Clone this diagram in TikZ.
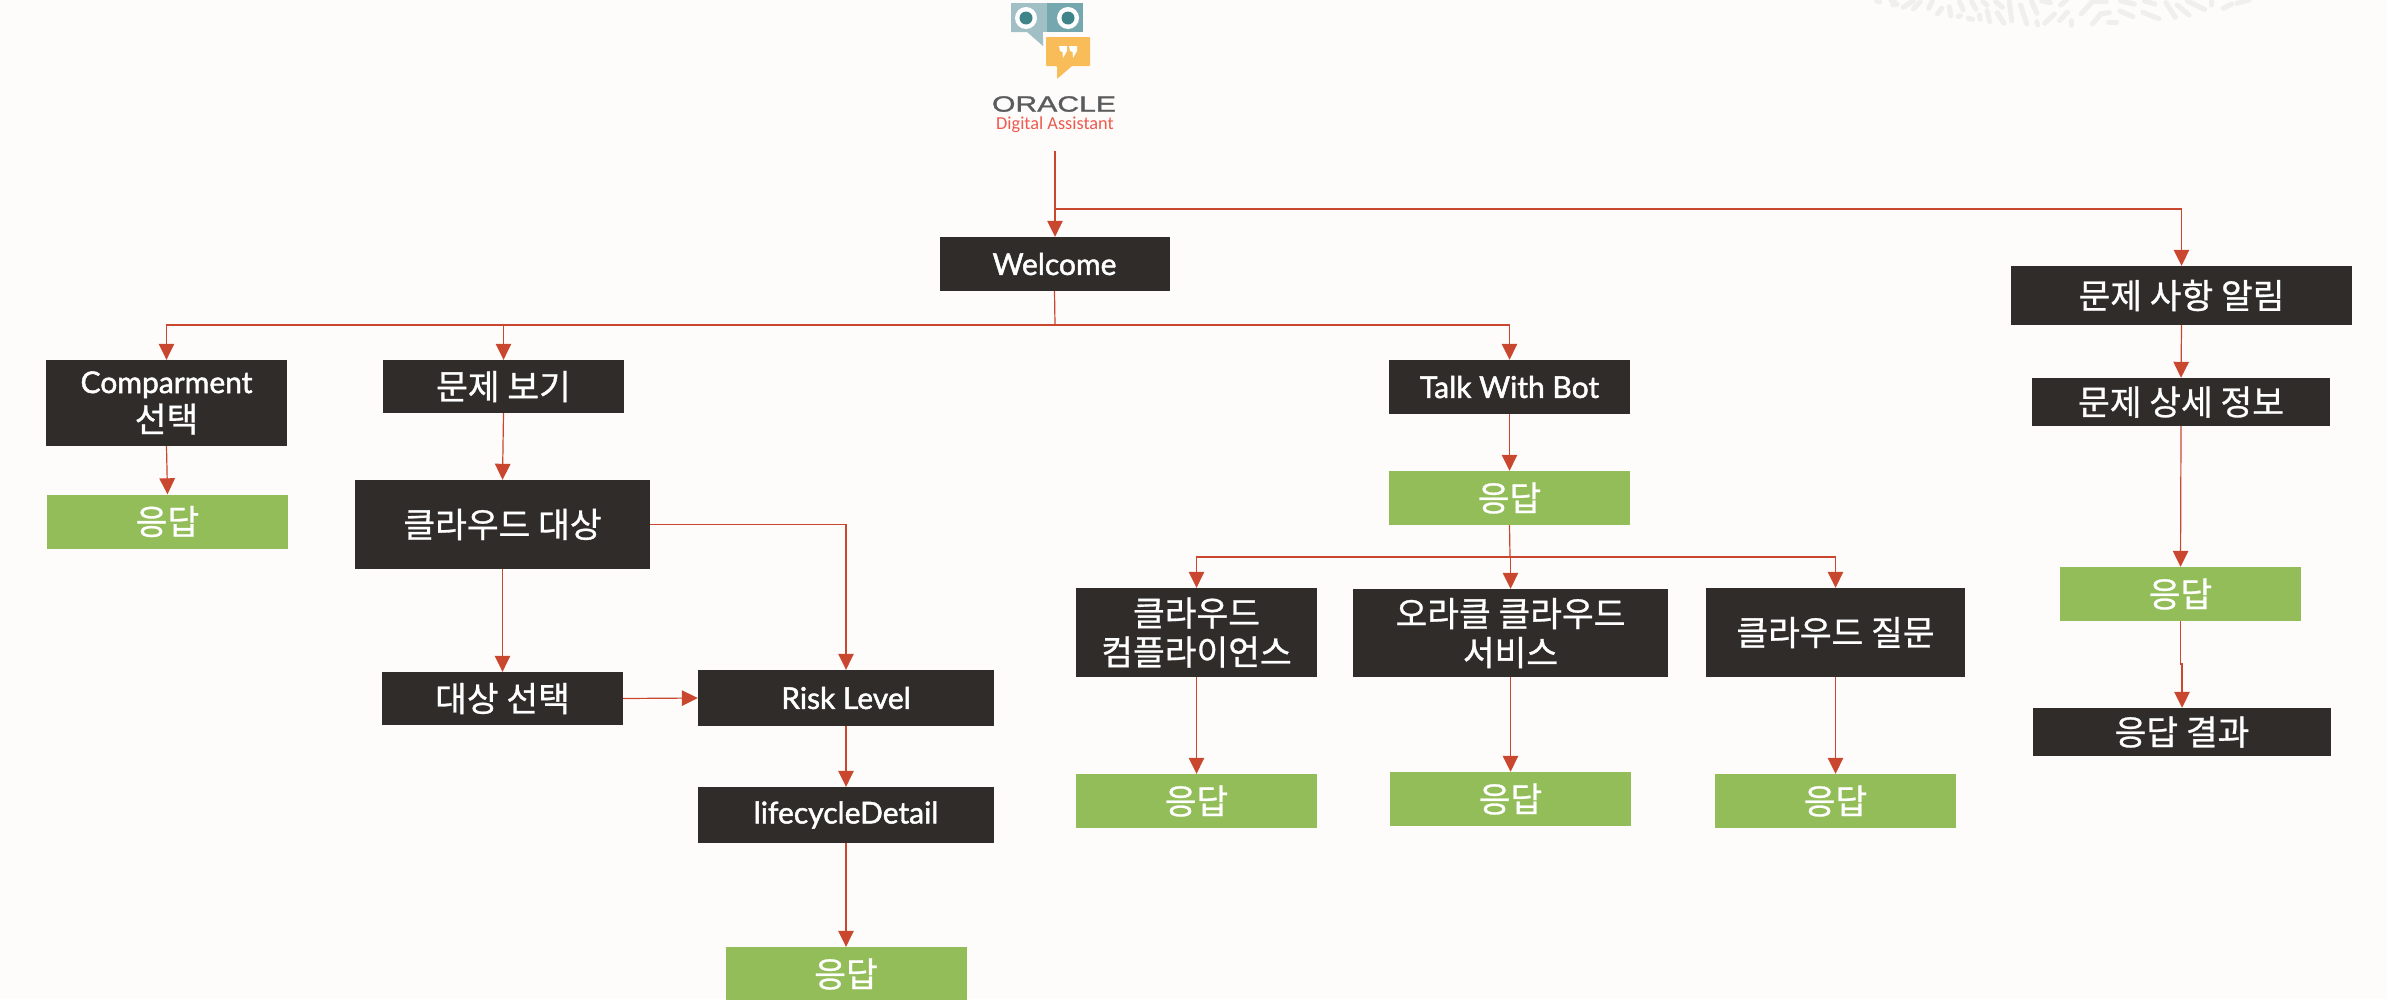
\documentclass[tikz,border=0pt]{standalone}
\usepackage{fontspec}
\usepackage{graphicx}
\usetikzlibrary{arrows.meta}
\setmainfont{Lato}[FakeBold=1.6]
\newfontfamily\kr{Noto Sans CJK KR}[FakeBold=0.8]
\newfontfamily\oralogo{Liberation Sans}[FakeBold=1.2]
\newfontfamily\odalabel{Carlito}
\definecolor{bgc}{HTML}{FDFCFA}
\definecolor{darkbox}{HTML}{2F2C2A}
\definecolor{greenbox}{HTML}{92BD58}
\definecolor{redline}{HTML}{C9462F}
\definecolor{blobc}{HTML}{F0EFED}
\tikzset{
  x=1pt,y=-1pt,
  box/.style={inner sep=0pt,text=white,align=center,font=\fontsize{30}{39}\selectfont,anchor=center},
  darkb/.style={box,fill=darkbox},
  krtext/.style={font=\kr\fontsize{34.5}{39}\selectfont},
  greenb/.style={box,fill=greenbox,minimum width=241pt,minimum height=54pt,krtext},
  arr/.style={draw=redline,line width=1.2pt,-{Triangle[width=15.5pt,length=16pt,fill=redline]}},
  plainline/.style={draw=redline,line width=1.2pt},
  blob/.style={draw=blobc,line width=5pt,line cap=round},
}
\begin{document}
\begin{tikzpicture}
\useasboundingbox (0,0) rectangle (2387,999);
\fill[bgc] (0,0) rectangle (2387,999);
% faint background texture
\foreach \a/\b/\c/\d in {78/3/86/6,120/2/130/0,125/15/137/13,155/22/185/3,185/27/205/5,230/25/240/3,255/42/268/25,290/20/294/48,315/50/322/47,320/5/330/30,355/5/368/28,345/55/358/58,378/45/380/58,388/5/400/15,400/32/408/65,425/5/445/22,430/38/450/70,465/5/472/62,498/15/516/72,530/5/546/40,560/3/585/8,545/65/548/75,568/70/597/42,615/15/632/0,612/62/635/36,648/62/648/76,675/42/705/8,710/5/748/5,708/72/730/45,730/42/757/38,755/68/778/68,788/33/826/50,790/3/830/12,855/37/902/56,860/3/890/12,922/8/950/52,955/15/990/45,985/3/1035/28,1055/3/1055/15,1090/25/1115/12,1130/10/1165/0} {
  \draw[blob] ({1850+\a/2.92},{\b/3}) -- ({1850+\c/2.92},{\d/3});
}
% logo
\fill[fill={rgb,255:red,160;green,192;blue,198}] (1011,3) -- (1047,3) -- (1047,32) -- (1043,32) -- (1043,46) -- (1027,32) -- (1011,32) -- cycle;
\fill[fill={rgb,255:red,117;green,168;blue,174}] (1047,3) -- (1083,3) -- (1083,32) -- (1047,32) -- cycle;
\foreach \cx in {1026,1068} {
  \fill[white] (\cx,18) circle[radius=11];
  \fill[fill={rgb,255:red,63;green,132;blue,137}] (\cx,18) circle[radius=6.5];
}
\fill[bgc] (1043,32) rectangle (1092,37);
\fill[fill={rgb,255:red,248;green,188;blue,88},rounded corners=0.8pt] (1046,37) -- (1090,37) -- (1090,66) -- (1072,66) -- (1057,79) -- (1057,66) -- (1046,66) -- cycle;
\foreach \qx in {1059,1069} {
  \fill[white] (\qx,46) -- (\qx+8,46) -- (\qx+8,51) -- (\qx+4,58) -- (\qx+3.5,52) -- (\qx+1,51) -- cycle;
}
\node[inner sep=0pt,text={rgb,255:red,90;green,91;blue,93}] (oracle) at (1054,104) {\oralogo\fontsize{22}{22}\selectfont\scalebox{1.37}[1]{ORACLE}};
\node[inner sep=0pt,text={rgb,255:red,238;green,90;blue,78}] (oda) at (1055,125) {\odalabel\fontsize{18.3}{20}\selectfont Digital Assistant};
% boxes
\node[darkb,minimum width=230pt,minimum height=54pt] (welcome) at (1054.5,264) {Welcome};
\node[darkb,minimum width=241pt,minimum height=86pt] (comp) at (166.5,403) {Comparment\\{\kr\fontsize{34.5}{39}\selectfont 선택}};
\node[greenb] (res1) at (167.5,521.5) {응답};
\node[darkb,krtext,minimum width=241pt,minimum height=53pt] (view) at (503.5,386.5) {문제 보기};
\node[darkb,krtext,minimum width=295pt,minimum height=89pt] (cloud) at (502.5,524.5) {클라우드 대상};
\node[darkb,krtext,minimum width=241pt,minimum height=53pt] (target) at (502.5,698.5) {대상 선택};
\node[darkb,minimum width=296pt,minimum height=56pt] (risk) at (846,698) {Risk Level};
\node[darkb,minimum width=296pt,minimum height=56pt] (life) at (846,815) {lifecycleDetail};
\node[greenb,minimum height=54pt] (res2) at (846,974) {응답};
\node[darkb,minimum width=241pt,minimum height=54pt] (talk) at (1509.5,387) {Talk With Bot};
\node[greenb] (res3) at (1509.5,498) {응답};
\node[darkb,krtext,minimum width=241pt,minimum height=89pt] (comply) at (1196.5,632.5) {클라우드\\컴플라이언스};
\node[darkb,krtext,minimum width=315pt,minimum height=88pt] (ocs) at (1510.5,633) {오라클 클라우드\\서비스};
\node[darkb,krtext,minimum width=259pt,minimum height=89pt] (ask) at (1835.5,632.5) {클라우드 질문};
\node[greenb] (res4) at (1196.5,801) {응답};
\node[greenb] (res5) at (1510.5,799) {응답};
\node[greenb] (res6) at (1835.5,801) {응답};
\node[darkb,krtext,minimum width=341pt,minimum height=59pt] (notice) at (2181.5,295.5) {문제 사항 알림};
\node[darkb,krtext,minimum width=298pt,minimum height=48pt] (detail) at (2181,402) {문제 상세 정보};
\node[greenb] (res7) at (2180.5,594) {응답};
\node[darkb,krtext,minimum width=298pt,minimum height=48pt] (result) at (2182,732) {응답 결과};
% connector junctions
\coordinate (odaout) at (1055,151);
\coordinate (splitR) at (1055,209);
\coordinate (busW) at (1055,325);
\coordinate (busT) at (1510,557);
\coordinate (jog) at (2180.5,664);
% connectors
\draw[arr] (odaout) -- (odaout |- welcome.north);
\draw[arr] (splitR) -| (notice.north);
\draw[plainline] (welcome.south) -- (busW);
\draw[arr] (busW) -| (comp.north);
\draw[arr] (busW) -| (view.north);
\draw[arr] (busW) -| (talk.north);
\draw[arr] (comp.south) -- (res1.north);
\draw[arr] (view.south) -- (cloud.north);
\draw[arr] (cloud.south) -- (target.north);
\draw[arr] (cloud.east) -| (risk.north);
\draw[arr] (target.east) -- (risk.west);
\draw[arr] (risk.south) -- (life.north);
\draw[arr] (life.south) -- (res2.north);
\draw[arr] (talk.south) -- (res3.north);
\draw[plainline] (res3.south) -- (busT);
\draw[arr] (busT) -| (comply.north);
\draw[arr] (busT) -| (ocs.north);
\draw[arr] (busT) -| (ask.north);
\draw[arr] (comply.south) -- (res4.north);
\draw[arr] (ocs.south) -- (res5.north);
\draw[arr] (ask.south) -- (res6.north);
\draw[arr] (notice.south) -- (detail.north);
\draw[arr] (detail.south) -- (res7.north);
\draw[arr] (res7.south) -- (jog) -| (result.north);
\end{tikzpicture}
\end{document}
